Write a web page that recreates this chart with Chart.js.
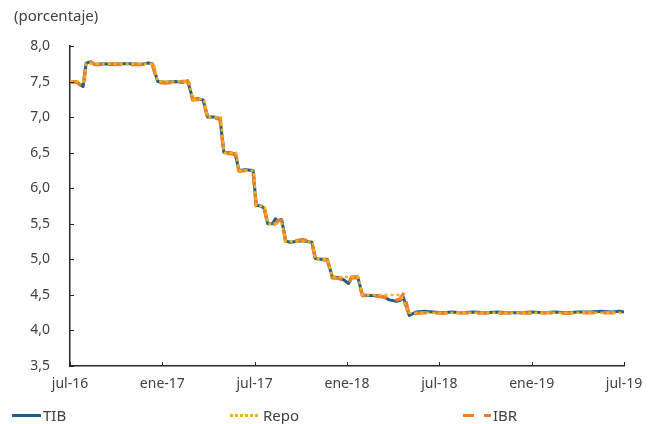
<!DOCTYPE html>
<html lang="es">
<head>
<meta charset="utf-8">
<title>Tasas de interés</title>
<script src="https://cdn.jsdelivr.net/npm/chart.js@4/dist/chart.umd.min.js"></script>
<style>
  html, body { margin: 0; padding: 0; background: #fff; }
  #wrap { position: relative; width: 657px; height: 424px; font-family: 'Noto Sans', sans-serif; color: #404040; }
  #chart { position: absolute; left: 0; top: 0; }
  .unit { position: absolute; left: 14px; top: 5px; font-size: 15px; }
  .leg { position: absolute; top: 405px; font-size: 15px; line-height: 20px; }
  .sw { position: absolute; top: 9px; height: 3px; }
</style>
</head>
<body>
<div id="wrap">
  <canvas id="chart" width="657" height="424"></canvas>
  <div class="unit">(porcentaje)</div>
  <div class="leg" style="left:12px;"><span class="sw" style="left:0;width:29px;background:#1d5f8c;"></span><span style="position:absolute;left:31px;">TIB</span></div>
  <div class="leg" style="left:230px;"><span class="sw" style="left:0;width:28px;background:repeating-linear-gradient(90deg,#efb40f 0 3px,transparent 3px 5px);"></span><span style="position:absolute;left:33px;">Repo</span></div>
  <div class="leg" style="left:463px;"><span class="sw" style="left:0;width:28px;background:repeating-linear-gradient(90deg,#ed7d31 0 11px,transparent 11px 21px);"></span><span style="position:absolute;left:30px;">IBR</span></div>
</div>
<script>
// Months elapsed since July 2016 for each observation, with the rate (%) at that point.
const tickLabels = ['jul-16', 'ene-17', 'jul-17', 'ene-18', 'jul-18', 'ene-19', 'jul-19'];

const repoX = [0, 0.95, 1.05, 5.45, 5.7, 7.75, 7.98, 8.7, 8.95, 9.8, 10.0, 10.8, 10.98, 11.95, 12.1,
  12.65, 12.85, 13.8, 14.02, 15.75, 15.95, 16.75, 17.05, 18.75, 19.0, 21.5, 21.95, 36];
const repoY = [7.5, 7.5, 7.75, 7.75, 7.5, 7.5, 7.25, 7.25, 7.0, 7.0, 6.5, 6.5, 6.25, 6.25, 5.75,
  5.75, 5.5, 5.5, 5.25, 5.25, 5.0, 5.0, 4.75, 4.75, 4.5, 4.5, 4.25, 4.25];

const tibX = [0, 0.45, 0.85, 1.05, 1.35, 1.6, 2.2, 2.8, 3.4, 4.0, 4.6, 5.1, 5.35, 5.7, 6.2, 6.8, 7.3,
  7.65, 7.98, 8.3, 8.65, 8.95, 9.4, 9.75, 10.0, 10.4, 10.75, 10.98, 11.4, 11.9, 12.1, 12.4, 12.62,
  12.85, 13.15, 13.35, 13.5, 13.75, 14.02, 14.3, 14.7, 15.1, 15.45, 15.72, 15.95, 16.3, 16.72, 17.05,
  17.5, 17.8, 18.1, 18.3, 18.7, 19.0, 19.5, 20.0, 20.4, 20.75, 21.2, 21.45, 21.65, 22.05, 22.5, 23.0,
  23.6, 24.2, 24.8, 25.5, 26.2, 27.0, 27.8, 28.5, 29.3, 30.0, 30.8, 31.5, 32.3, 33.0, 33.8, 34.5,
  35.2, 35.7, 36.0];
const tibY = [7.50, 7.49, 7.43, 7.76, 7.78, 7.74, 7.75, 7.74, 7.75, 7.75, 7.74, 7.76, 7.75, 7.50, 7.49,
  7.50, 7.49, 7.51, 7.25, 7.26, 7.24, 7.00, 7.00, 6.98, 6.50, 6.50, 6.48, 6.25, 6.26, 6.25, 5.76, 5.75,
  5.72, 5.50, 5.50, 5.57, 5.54, 5.56, 5.26, 5.24, 5.25, 5.26, 5.25, 5.24, 5.01, 5.00, 5.00, 4.75, 4.74,
  4.71, 4.66, 4.75, 4.75, 4.50, 4.49, 4.49, 4.47, 4.43, 4.41, 4.42, 4.47, 4.21, 4.26, 4.27, 4.26, 4.25,
  4.26, 4.25, 4.26, 4.25, 4.26, 4.25, 4.25, 4.26, 4.25, 4.26, 4.25, 4.26, 4.26, 4.27, 4.26, 4.27, 4.26];

const ibrX = [0, 0.45, 0.85, 1.05, 1.35, 1.6, 2.2, 2.8, 3.4, 4.0, 4.6, 5.1, 5.35, 5.7, 6.2, 6.8, 7.3,
  7.65, 7.98, 8.3, 8.65, 8.95, 9.4, 9.75, 10.0, 10.4, 10.75, 10.98, 11.4, 11.9, 12.1, 12.4, 12.62,
  12.85, 13.15, 13.35, 13.55, 13.75, 14.02, 14.3, 14.7, 15.1, 15.45, 15.72, 15.95, 16.3, 16.72, 17.05,
  17.5, 17.8, 18.1, 18.3, 18.7, 19.0, 19.5, 20.0, 20.4, 20.75, 21.2, 21.45, 21.7, 22.05, 22.5, 23.0,
  23.6, 24.2, 24.8, 25.5, 26.2, 27.0, 27.8, 28.5, 29.3, 30.0, 30.8, 31.5, 32.3, 33.0, 33.8, 34.5,
  35.2, 35.7, 36.0];
const ibrY = [7.50, 7.49, 7.42, 7.75, 7.77, 7.74, 7.74, 7.75, 7.74, 7.74, 7.74, 7.75, 7.74, 7.49, 7.48,
  7.49, 7.50, 7.50, 7.24, 7.25, 7.24, 6.99, 6.99, 6.97, 6.49, 6.49, 6.47, 6.24, 6.25, 6.24, 5.75, 5.74,
  5.72, 5.49, 5.49, 5.50, 5.55, 5.55, 5.25, 5.24, 5.26, 5.28, 5.26, 5.24, 5.00, 4.99, 4.99, 4.74, 4.73,
  4.70, 4.66, 4.74, 4.74, 4.49, 4.49, 4.48, 4.47, 4.44, 4.43, 4.44, 4.53, 4.20, 4.24, 4.25, 4.25, 4.24,
  4.25, 4.25, 4.24, 4.25, 4.24, 4.25, 4.25, 4.24, 4.25, 4.25, 4.24, 4.25, 4.25, 4.25, 4.25, 4.25, 4.26];

const pairs = (xs, ys) => xs.map((x, i) => ({ x: x, y: ys[i] }));

// Short tick marks drawn on the inner side of both axes.
const innerTicks = {
  id: 'innerTicks',
  afterDraw(chart) {
    const { ctx, chartArea, scales } = chart;
    ctx.save();
    ctx.strokeStyle = '#262626';
    ctx.lineWidth = 1;
    ctx.beginPath();
    scales.y.ticks.forEach(t => {
      const py = Math.round(scales.y.getPixelForValue(t.value)) + 0.5;
      ctx.moveTo(chartArea.left, py);
      ctx.lineTo(chartArea.left + 4, py);
    });
    scales.x.ticks.forEach(t => {
      const px = Math.round(scales.x.getPixelForValue(t.value)) + 0.5;
      ctx.moveTo(px, chartArea.bottom);
      ctx.lineTo(px, chartArea.bottom - 4);
    });
    ctx.stroke();
    ctx.restore();
  }
};

Chart.defaults.font.family = "'Noto Sans', sans-serif";
Chart.defaults.font.size = 14;
Chart.defaults.color = '#404040';

new Chart(document.getElementById('chart'), {
  type: 'line',
  data: {
    datasets: [
      { label: 'TIB', data: pairs(tibX, tibY), borderColor: '#1d5f8c', borderWidth: 3, order: 3 },
      { label: 'IBR', data: pairs(ibrX, ibrY), borderColor: '#ed7d31', borderWidth: 3.5, borderDash: [12, 9], order: 2 },
      { label: 'Repo', data: pairs(repoX, repoY), borderColor: '#efb40f', borderWidth: 2.5, borderDash: [3, 3], order: 1 }
    ]
  },
  options: {
    responsive: false,
    animation: false,
    layout: { padding: { left: 0, top: 46, right: 33, bottom: 0 } },
    elements: { point: { radius: 0 }, line: { tension: 0, borderCapStyle: 'butt', borderJoinStyle: 'round' } },
    plugins: { legend: { display: false }, tooltip: { enabled: false } },
    scales: {
      x: {
        type: 'linear', min: 0, max: 36,
        grid: { display: false, drawTicks: false },
        border: { display: true, color: '#262626', width: 1.5 },
        ticks: { stepSize: 6, padding: 10, maxRotation: 0, callback: v => tickLabels[v / 6] },
        afterFit: s => { s.height = 58; }
      },
      y: {
        min: 3.5, max: 8.0,
        grid: { display: false, drawTicks: false },
        border: { display: true, color: '#262626', width: 1.5 },
        ticks: { stepSize: 0.5, padding: 20, callback: v => v.toFixed(1).replace('.', ',') },
        afterFit: s => { s.width = 70; }
      }
    }
  },
  plugins: [innerTicks]
});
</script>
</body>
</html>
